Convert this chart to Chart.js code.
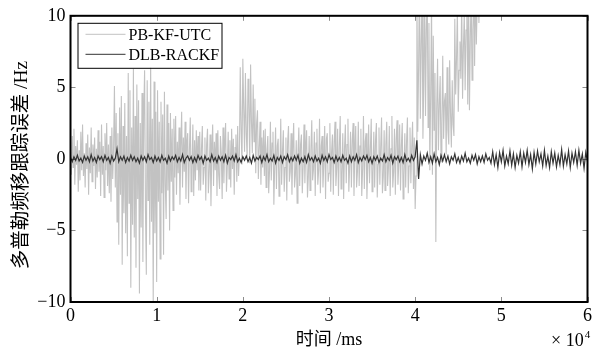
<!DOCTYPE html>
<html>
<head>
<meta charset="utf-8">
<script src="https://cdn.jsdelivr.net/npm/chart.js@4/dist/chart.umd.min.js"></script>
<style>
  html, body { margin: 0; padding: 0; background: #fff; }
  #wrap { width: 602px; height: 353px; }
</style>
</head>
<body>
<div id="wrap"><canvas id="c" width="602" height="353"></canvas></div>
<script>
// ---- data ----
const PB_SAMPLE_MS = 100;          // sampling interval of PB-KF-UTC
const DLB_SAMPLE_MS = 200;         // sampling interval of DLB-RACKF
const SERIES_NAMES = ['PB-KF-UTC', 'DLB-RACKF'];
const X_TICK_LABELS = ['0', '1', '2', '3', '4', '5', '6'];
const Y_TICK_LABELS = ['\u221210', '\u22125', '0', '5', '10'];
const X_TITLE = '时间 /ms';
const Y_TITLE = '多普勒频移跟踪误差 /Hz';
const X_EXPONENT = '4';

// PB-KF-UTC tracking error (Hz), 0 .. 47.5 s
const pbkfUtc = [
  0.3, -1.1, 1.6, -0.6, 2.1, -1.8, 0.9, -0.4, 1.3, -2.3, 0.6, -1.5, 1.9, -0.8, 2.4, -1.2, 0.4, -2.0, 1.1, -0.7,
  1.7, -2.5, 0.8, -1.0, 2.2, -1.6, 1.0, -0.5, 1.5, -2.1, 0.7, -1.3, 2.0, -0.9,
  1.2, -2.6, 2.4, -1.1, 0.9, -2.7, 1.8, -0.8, 2.5, -1.9, 1.0, -2.4, 1.6, -3.0, 2.2, -1.4, 0.8,
  5.1, -2.0, 3.2, -4.4, 1.8, -6.0, 3.6, -2.5, 4.4, -7.4, 2.3, -3.8,
  3.9, -5.2, 1.6, -6.8, 6.0, -3.1, 4.8, -9.0, 2.2, -4.6, 6.3, -5.5, 3.0, -7.6, 5.2, -2.8, 4.1,
  -9.4, 2.5, -4.8, 4.6, -7.2, 3.1, 6.2, -3.6, -8.1, 5.5, -2.9, 4.0, -6.0, 7.0, -4.4, 2.8, -10.0, 5.4, -5.2, 3.3, -8.6, 4.8, -3.0, 2.6,
  -7.0, 4.0, -2.4, 3.1, -6.7, 4.7, -1.8, -4.2, 3.8, -2.2, 2.5, -5.0, 3.2, -1.6, 2.1, -3.6, 2.8, -1.3,
  3.0, -2.5, 1.2, -1.0, 2.2, -3.2, 0.8, 3.3, -2.0, 1.5, -0.9, 2.6, -2.8, 1.1, 1.8, -3.1, 0.6, 2.9, -2.3, -0.7, 2.4, -2.6, 1.3, -1.5, 2.0, -0.8, 1.6, -2.2,
  1.9, -2.2, 0.7, 2.3, -1.8, -0.6, 1.5, -2.9, 1.0, 2.1, -2.4, -0.9, 1.7, -3.3, 0.5, 2.4, -1.9, 1.2, -0.8, 1.8, -2.6, 2.0, -1.1,
  -2.1, 1.6, 0.4, -2.8, 2.2, -1.7, 0.9, 2.5, -2.3, -0.5, 1.9, -1.4, 1.3, -2.0, 2.1, -0.7, 1.4, -2.5, 0.8, 1.7, -1.6, 2.3, -1.2,
  0.2, 6.4, 2.1, -0.4, 7.0, 3.5, 0.5, 6.0, 1.8, 0.1, 5.6, 4.0, -0.3, 6.6, 2.6, 0.4, 5.2, 1.2,
  4.2, -1.0, 2.5, 3.4, -1.4, 0.8, 2.6, -1.8, 1.5, -0.6, 2.0, -1.2,
  2.1, -2.0, 0.6, 1.6, -2.4, -0.8, 2.6, -1.5, 1.1, 1.9, -3.2, -0.4, 2.2, -2.1, 0.9, 1.4, -2.6, -1.0, 2.8, -1.8,
  0.5, 2.0, -2.3, -0.6, 1.5, -2.9, 1.2, 2.3, -1.6, -0.9, 1.8, -2.5, 0.7, 2.5, -2.0, -1.1, 1.3, -3.1, 0.4, 2.2,
  -1.9, 1.0, 1.7, -2.4, -0.5, 2.4, -1.7, 0.8, 2.0, -2.7, -1.2, 1.6, -2.2, 0.6, 2.7, -1.5, -0.7, 1.9, -2.6, 1.1,
  2.1, -1.8, -0.8, 2.8, -2.4, 0.9, 1.6, -2.0, -0.3, 2.3, -2.8, 1.4, 1.8, -1.6, -1.0, 2.5, -2.3, 0.5, 1.7, -2.5,
  1.2, 2.6, -1.9, -0.6, 2.1, -2.6, 0.8, 3.0, -2.1, -1.1, 1.8, -2.8, 0.7, 2.4, -1.7, 1.0, 2.8, -2.3, -0.4, 1.9,
  -2.0, 1.3, 2.5, -2.6, 0.6, 2.3, -2.0, -0.9,
  2.6, -1.9, 0.9, 2.1, -2.6, -0.7, 3.0, -2.1, 1.2, 1.8, -2.8, -0.5, 2.4, -1.7, 0.6, 2.8, -2.3, -1.0, 1.9, -2.0,
  1.3, 2.5, -2.7, -0.4, 2.2, -1.8, 0.8, 2.9, -2.4, -1.2, 2.0, -2.2, 1.0, 2.6, -1.9, -0.6, 2.3, -2.6, 0.7, 3.0,
  -2.0, -0.9, 2.1, -2.5, 1.4, 2.7, -1.8, -0.3, 2.4, -2.2, 0.9, 2.5, -2.8, -1.1, 1.8, -2.0, 1.2, 2.9, -2.4, -0.5,
  2.2, -1.7, 0.8, 2.6, -2.1, 1.5, -3.5, -1.2,
  12, 1.9, 6.5, 13, 2.8, 8.0, 11.5, 1.4, 5.2, 12.5, 3.0, 9.0, 12, 2.2,
  9.5, -0.8, 4.5, 11, -1.1, 8.6, 2.0, 6.0, -5.8, 3.5,
  7.0, 0.6, 3.8, 5.8, -0.2, 2.5, 7.2, 1.4, 4.0, 4.6, 0.3, 6.4, 2.0, 1.0, 6.9, 3.2, 0.8, 5.5, 2.4, 1.6,
  9.8, 4.5, 7.0, 10.5, 3.3, 6.2, 8.2, 5.6, 11, 4.2, 7.8, 10.2, 4.8, 9.0, 12, 3.8,
  12, 3.4, 8.5, 11.5, 5.5, 9.0, 12, 6.5, 13, 8.0, 11, 12.5, 9.5, 14
];

// DLB-RACKF tracking error (Hz), 0 .. 60 s
const dlbRackf = [
  0.1, -0.2, 0.15, -0.1, 0.25, -0.15, 0.05, -0.25, 0.2, -0.1, 0.15, -0.2, 0.3, -0.15, 0.1, -0.25, 0.2, -0.05, 0.15, -0.2, 0.25, -0.1, 0.1, -0.3, 0.2, -0.15, 0.05, 0.7,
  -0.2, 0.15, -0.1, 0.2, -0.25, 0.1, -0.15, 0.25, -0.1, 0.15,
  -0.2, 0.05, -0.3, 0.2, -0.1, 0.15, -0.2, 0.3, -0.05, 0.1,
  -0.25, 0.2, -0.15, 0.1, -0.2, 0.25, -0.1, 0.05, -0.3, 0.2,
  -0.15, 0.15, -0.05, 0.25, -0.2, 0.1, -0.15, 0.3, -0.25, 0.05,
  0.2, -0.1, 0.15, -0.25, 0.1, -0.2, 0.25, -0.05, 0.15, -0.3,
  0.2, -0.1, 0.05, -0.2, 0.3, -0.15, 0.1, -0.25, 0.2, -0.1,
  0.15, -0.2, 0.25, -0.3, 0.1, -0.05, 0.2, -0.15, 0.3, -0.2,
  0.05, -0.25, 0.15, -0.1, 0.2, -0.2, 0.1, -0.3, 0.25, -0.15,
  0.1, -0.05, 0.2, -0.25, 0.15, -0.1, 0.3, -0.2, 0.05, -0.15,
  0.25, -0.3, 0.1, -0.1, 0.2, -0.25, 0.15, -0.05, 0.3, -0.2,
  0.1, -0.15, 0.2, -0.1, 0.25, -0.3, 0.05, -0.2, 0.15, -0.25,
  0.3, -0.1, 0.1, -0.2, 0.2, -0.15, 0.05, -0.3, 0.25, -0.1,
  0.15, -0.2, 0.3, -0.05, 0.1, -0.25, 0.2, -0.15, 0.1, -0.2,
  0.25, -0.1, 0.05, -0.3, 0.2, -0.2, 0.15, -0.1, 0.3, -0.25,
  0.1, -0.15, 0.2, -0.05, 0.25, -0.2, 0.1, -0.3, 0.15, -0.1,
  0.2, -0.25, 0.05, -0.15, 0.3, -0.2, 0.1, -0.1, 0.25, -0.3,
  0.15, -0.05, 0.2, -0.2, 0.1, -0.25, 0.3, -0.15, 0.05, -0.2,
  0.25, -0.1, 0.15,
  1.3, -1.4,
  0.3, -0.35, 0.2, -0.1, 0.4, -0.25, 0.15, -0.3, 0.35, -0.2,
  0.1, -0.4, 0.25, -0.15, 0.3, -0.2, 0.2, -0.35, 0.15, -0.1,
  0.35, -0.25, 0.1, -0.3, 0.2, -0.15, 0.4, -0.2, 0.05, -0.3,
  0.25, -0.1, 0.3, -0.35, 0.15, -0.2, 0.2, -0.25, 0.35, -0.1,
  0.1, -0.3,
  0.5, -0.4, 0.3, -0.6, 0.45, -0.2, 0.6, -0.5, 0.2, -0.35,
  0.55, -0.45, 0.35, -0.6, 0.25, -0.3, 0.5, -0.55, 0.4, -0.25,
  0.6, -0.4, 0.3, -0.7, 0.45, -0.35, 0.55, -0.2, 0.35, -0.5,
  0.6, -0.45, 0.2, -0.6, 0.5, -0.3, 0.4, -0.55, 0.25, -0.4,
  0.65, -0.5, 0.3, -0.35, 0.55, -0.6, 0.4, -0.25, 0.5, -0.45,
  0.6, -0.3, 0.35, -0.65, 0.45, -0.2
];

// ---- build ----
const toPoints = (arr, dt) => arr.map((v, i) => ({ x: i * dt, y: v }));
const SERIF = "'Liberation Serif', 'Times New Roman', 'Noto Sans CJK SC', serif";
const CJK = "'Liberation Serif', 'Noto Sans CJK SC', serif";
const COLORS = ['#c2c2c2', '#333333'];

const framePlugin = {
  id: 'frameAndLegend',
  afterDraw(chart) {
    const { ctx, chartArea: a, scales: { x, y } } = chart;
    ctx.save();
    // inward ticks on all four sides
    ctx.strokeStyle = 'rgba(0,0,0,0.45)';
    ctx.lineWidth = 1;
    ctx.beginPath();
    x.ticks.forEach(t => {
      const px = Math.round(x.getPixelForValue(t.value)) + 0.5;
      ctx.moveTo(px, a.bottom); ctx.lineTo(px, a.bottom - 5);
      ctx.moveTo(px, a.top); ctx.lineTo(px, a.top + 5);
    });
    y.ticks.forEach(t => {
      const py = Math.round(y.getPixelForValue(t.value)) + 0.5;
      ctx.moveTo(a.left, py); ctx.lineTo(a.left + 5, py);
      ctx.moveTo(a.right, py); ctx.lineTo(a.right - 5, py);
    });
    ctx.stroke();
    // frame
    ctx.strokeStyle = '#000';
    ctx.lineWidth = 2;
    ctx.strokeRect(a.left, a.top, a.right - a.left, a.bottom - a.top);

    // legend (inside plot, top-left)
    const lx = a.left + 7, ly = a.top + 7, lw = 144, lh = 45;
    ctx.fillStyle = '#fff';
    ctx.fillRect(lx, ly, lw, lh);
    ctx.strokeStyle = '#000';
    ctx.lineWidth = 1;
    ctx.strokeRect(lx + 0.5, ly + 0.5, lw, lh);
    ctx.font = '16px ' + SERIF;
    ctx.textBaseline = 'alphabetic';
    ctx.textAlign = 'left';
    SERIES_NAMES.forEach((name, i) => {
      const cy = ly + 11.5 + i * 20;
      ctx.strokeStyle = COLORS[i];
      ctx.lineWidth = 1;
      ctx.beginPath();
      ctx.moveTo(lx + 8, cy); ctx.lineTo(lx + 48, cy);
      ctx.stroke();
      ctx.fillStyle = '#000';
      ctx.fillText(name, lx + 51, cy + 6);
    });

    // y axis title (rotated)
    ctx.save();
    ctx.translate(22, 165);
    ctx.rotate(-Math.PI / 2);
    ctx.font = '19.5px ' + CJK;
    ctx.fillStyle = '#000';
    ctx.textAlign = 'center';
    ctx.textBaseline = 'middle';
    ctx.fillText(Y_TITLE, 0, 0);
    ctx.restore();

    // x10^4 multiplier
    ctx.fillStyle = '#000';
    ctx.font = '18px ' + SERIF;
    ctx.textAlign = 'left';
    ctx.textBaseline = 'alphabetic';
    const base = 346;
    const mult = '\u00d7 10';
    ctx.fillText(mult, 551, base);
    const w = ctx.measureText(mult).width;
    ctx.font = '11px ' + SERIF;
    ctx.fillText(X_EXPONENT, 551 + w + 1, base - 8);
    ctx.restore();
  }
};

new Chart(document.getElementById('c'), {
  type: 'line',
  data: {
    datasets: [
      { label: SERIES_NAMES[0], data: toPoints(pbkfUtc, PB_SAMPLE_MS), borderColor: COLORS[0], borderWidth: 1.1, pointRadius: 0, tension: 0, order: 1 },
      { label: SERIES_NAMES[1], data: toPoints(dlbRackf, DLB_SAMPLE_MS), borderColor: COLORS[1], borderWidth: 1.2, pointRadius: 0, tension: 0, order: 0 }
    ]
  },
  options: {
    responsive: false,
    animation: false,
    devicePixelRatio: 1,
    layout: { padding: { left: 0, right: 14.5, top: 15, bottom: 0 } },
    plugins: { legend: { display: false }, tooltip: { enabled: false } },
    scales: {
      x: {
        type: 'linear', min: 0, max: 60000,
        grid: { display: false, drawTicks: false },
        border: { display: false },
        ticks: {
          stepSize: 10000, padding: 3, color: '#000', maxRotation: 0,
          font: { family: SERIF, size: 18 },
          callback: (v) => X_TICK_LABELS[Math.round(v / 10000)]
        },
        title: { display: true, text: X_TITLE, color: '#000', font: { family: CJK, size: 18 }, padding: { top: 0, bottom: 2 } },
        afterFit: s => { s.height = 51; }
      },
      y: {
        type: 'linear', min: -10, max: 10,
        grid: { display: false, drawTicks: false },
        border: { display: false },
        ticks: {
          stepSize: 5, padding: 5, color: '#000',
          font: { family: SERIF, size: 18 },
          callback: (v) => Y_TICK_LABELS[Math.round((v + 10) / 5)]
        },
        title: { display: false },
        afterFit: s => { s.width = 70.5; }
      }
    }
  },
  plugins: [framePlugin]
});
</script>
</body>
</html>
